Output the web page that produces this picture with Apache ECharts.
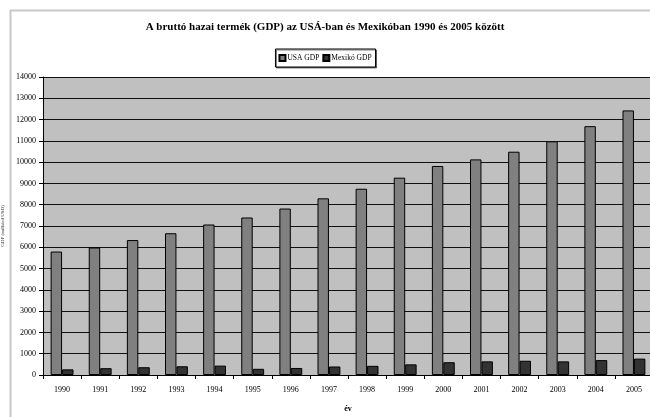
<!DOCTYPE html>
<html>
<head>
<meta charset="utf-8">
<script src="https://cdn.jsdelivr.net/npm/echarts@6/dist/echarts.min.js"></script>
<style>
html,body{margin:0;padding:0;background:#fff;}
#chart{width:650px;height:417px;}
</style>
</head>
<body>
<div id="chart"></div>
<script>
var years = ['1990','1991','1992','1993','1994','1995','1996','1997','1998','1999','2000','2001','2002','2003','2004','2005'];
var usaGdp = [5800, 5990, 6340, 6660, 7070, 7400, 7820, 8300, 8750, 9270, 9820, 10130, 10490, 10980, 11690, 12430];
var mexicoGdp = [265, 320, 365, 410, 440, 290, 330, 400, 430, 500, 600, 640, 670, 640, 700, 770];
var seriesNames = ['USA GDP', 'Mexikó GDP'];
var titleText = 'A bruttó hazai termék (GDP) az USÁ-ban és Mexikóban 1990 és 2005 között';
var xName = 'év';
var yName = 'GDP (milliárd USD)';

var serif = '"Liberation Serif", "DejaVu Serif", serif';
var chart = echarts.init(document.getElementById('chart'), null, {renderer: 'canvas'});
chart.setOption({
  animation: false,
  backgroundColor: '#ffffff',
  graphic: [{
    type: 'rect',
    left: 8, top: 8,
    shape: {width: 700, height: 500},
    style: {fill: 'none', stroke: '#c8c8c8', lineWidth: 2},
    silent: true
  }],
  title: {
    text: titleText,
    left: 'center',
    top: 17,
    textStyle: {fontFamily: serif, fontSize: 11, fontWeight: 'bold', color: '#000'}
  },
  legend: {
    top: 49,
    left: 'center',
    data: seriesNames,
    icon: 'rect',
    itemWidth: 6,
    itemHeight: 6,
    itemGap: 3,
    padding: [5, 4, 5, 3],
    borderColor: '#000',
    borderWidth: 1,
    shadowColor: 'rgba(0,0,0,0.5)',
    shadowOffsetX: 1,
    shadowOffsetY: 1,
    backgroundColor: '#fff',
    textStyle: {fontFamily: serif, fontSize: 7.5, color: '#000', padding: [0, 0, 0, -3]}
  },
  grid: {left: 43, top: 77, width: 610, height: 298, containLabel: false, outerBoundsMode: 'none'},
  xAxis: {
    type: 'category',
    data: years,
    name: xName,
    nameLocation: 'middle',
    nameGap: 30,
    nameTextStyle: {fontFamily: serif, fontSize: 8, fontWeight: 'bold', color: '#000'},
    axisLine: {lineStyle: {color: '#000', width: 1}},
    axisTick: {show: true, length: 4, lineStyle: {color: '#000'}},
    axisLabel: {fontFamily: serif, fontSize: 8, color: '#000', margin: 11},
    splitLine: {show: false}
  },
  yAxis: {
    type: 'value',
    min: 0, max: 14000, interval: 1000,
    name: yName,
    nameLocation: 'middle',
    nameGap: 34,
    nameTextStyle: {fontFamily: serif, fontSize: 5, color: '#333'},
    axisLine: {show: true, lineStyle: {color: '#000', width: 1}},
    axisTick: {show: true, length: 4, lineStyle: {color: '#000'}},
    axisLabel: {fontFamily: serif, fontSize: 8, color: '#000', margin: 7,
      formatter: function (v) { return String(v); }},
    splitLine: {show: true, lineStyle: {color: '#111', width: 1}},
    splitArea: {show: true, areaStyle: {color: ['#c0c0c0', '#c0c0c0']}}
  },
  series: [
    {
      name: seriesNames[0],
      type: 'bar',
      data: usaGdp,
      barGap: '0%',
      barCategoryGap: '40%',
      itemStyle: {color: '#808080', borderColor: '#000', borderWidth: 1}
    },
    {
      name: seriesNames[1],
      type: 'bar',
      data: mexicoGdp,
      barGap: '0%',
      barCategoryGap: '40%',
      itemStyle: {color: '#333333', borderColor: '#000', borderWidth: 1}
    }
  ]
});
</script>
</body>
</html>
